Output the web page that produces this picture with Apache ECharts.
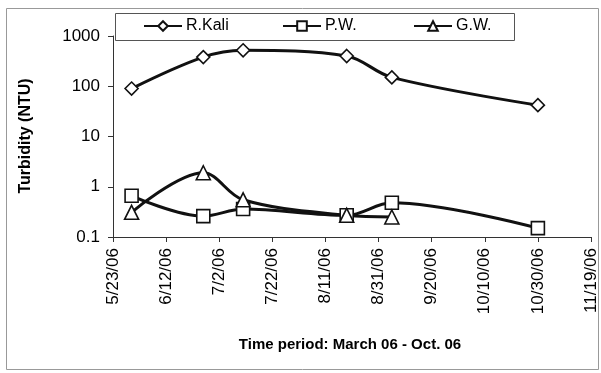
<!DOCTYPE html>
<html><head><meta charset="utf-8">
<script src="https://cdn.jsdelivr.net/npm/echarts@6/dist/echarts.min.js"></script>
<style>html,body{margin:0;padding:0;background:#fff}#c{width:601px;height:373px}</style>
</head><body><div id="c"></div>
<script>
// ---- data ----
var startDate = '5/23/06';
var tickLabels = ['5/23/06','6/12/06','7/2/06','7/22/06','8/11/06','8/31/06','9/20/06','10/10/06','10/30/06','11/19/06'];
var kaliDates = ['5/30/06','6/26/06','7/11/06','8/19/06','9/5/06','10/30/06'];
var kaliValues = [90, 380, 520, 400, 150, 42];
var pwDates = ['5/30/06','6/26/06','7/11/06','8/19/06','9/5/06','10/30/06'];
var pwValues = [0.66, 0.26, 0.36, 0.27, 0.48, 0.15];
var gwDates = ['5/30/06','6/26/06','7/11/06','8/19/06','9/5/06'];
var gwValues = [0.31, 1.9, 0.55, 0.27, 0.25];
var seriesNames = ['R.Kali','P.W.','G.W.'];
var yTitle = 'Turbidity (NTU)';
var xTitle = 'Time period: March 06 - Oct. 06';

function parseD(s){var p=s.split('/');return Date.UTC(2000+ +p[2], +p[0]-1, +p[1]);}
var t0 = parseD(startDate);
function dayOff(s){return Math.round((parseD(s)-t0)/86400000);}
function pts(d,v){return d.map(function(x,i){return [dayOff(x), v[i]];});}

var font = 'Liberation Sans, Arial, sans-serif';
function ser(name, d, v, sym, size){
  return {name:name, type:'line', smooth:0.35, data:pts(d,v), symbol:sym, symbolSize:size,
    showAllSymbol:true, lineStyle:{color:'#111', width:3},
    itemStyle:{color:'#fff', borderColor:'#111', borderWidth:1.6}, z:3};
}
var chart = echarts.init(document.getElementById('c'), null, {renderer:'canvas'});
function lg(name, left){
  return {data:[name], left:left, top:18, padding:0, itemWidth:38, itemHeight:12, itemGap:0,
    textStyle:{fontFamily:font, fontSize:16, color:'#000', padding:[0,0,0,-1]}, z:10};
}
chart.setOption({
  animation:false,
  backgroundColor:'#fff',
  grid:{left:113, right:10, top:36, bottom:136},
  legend:[lg(seriesNames[0],143), lg(seriesNames[1],282), lg(seriesNames[2],413)],
  xAxis:{type:'value', min:0, max:180, interval:20,
    axisLine:{show:true, onZero:false, lineStyle:{color:'#333', width:1}},
    axisTick:{show:true, length:5, lineStyle:{color:'#333'}},
    splitLine:{show:false},
    axisLabel:{rotate:90, margin:11, fontFamily:font, fontSize:17, color:'#000',
      formatter:function(v){return tickLabels[Math.round(v/20)];}}},
  yAxis:{type:'log', logBase:10, min:0.1, max:1000,
    axisLine:{show:true, lineStyle:{color:'#333', width:1}},
    axisTick:{show:true, length:5, lineStyle:{color:'#333'}},
    splitLine:{show:false}, minorTick:{show:false},
    axisLabel:{margin:13, fontFamily:font, fontSize:17, color:'#000',
      formatter:function(v){return v<1? String(+v.toFixed(1)) : String(Math.round(v));}}},
  graphic:[
    {type:'rect', shape:{x:6.5, y:8.5, width:592, height:361}, style:{fill:null, stroke:'#999', lineWidth:1}, z:0},
    {type:'rect', shape:{x:115.5, y:13.5, width:399, height:27}, style:{fill:'#fff', stroke:'#555', lineWidth:1}, z:5},
    {type:'text', x:26, y:136, rotation:Math.PI/2, style:{text:yTitle, font:'bold 16px '+font, fill:'#000', textAlign:'center', textVerticalAlign:'middle'}, z:5},
    {type:'text', x:350, y:345, style:{text:xTitle, font:'bold 15px '+font, fill:'#000', textAlign:'center', textVerticalAlign:'middle'}, z:5}
  ],
  series:[
    ser(seriesNames[0], kaliDates, kaliValues, 'diamond', 13),
    ser(seriesNames[1], pwDates, pwValues, 'rect', 13),
    ser(seriesNames[2], gwDates, gwValues, 'triangle', 14)
  ]
});
</script></body></html>
